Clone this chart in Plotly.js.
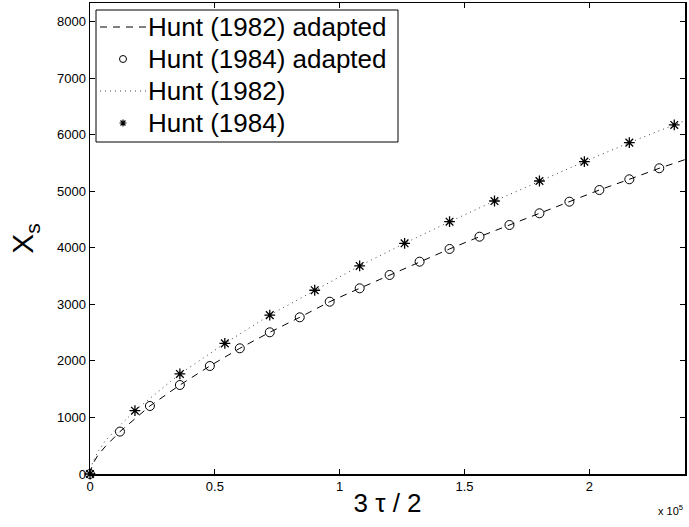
<!DOCTYPE html>
<html>
<head>
<meta charset="utf-8">
<script src="https://cdn.plot.ly/plotly-3.0.1.min.js"></script>
<style>
  html, body { margin: 0; padding: 0; background: #fff; }
  #chart { width: 689px; height: 527px; }
</style>
</head>
<body>
<div id="chart"></div>
<script>
// Curve samples (x in units of 3*tau/2, y is X_s)
const hunt1982AdaptedX = [0, 1000, 3000, 6000, 12000, 24000, 36000, 48000, 60000, 72000, 84000, 96000, 108000, 120000, 132000, 144000, 156000, 168000, 180000, 192000, 204000, 216000, 228000, 238300];
const hunt1982AdaptedY = [0, 170, 320, 480, 750, 1203, 1574, 1910, 2223, 2506, 2771, 3047, 3284, 3520, 3755, 3980, 4197, 4404, 4611, 4816, 5023, 5212, 5407, 5560];

const hunt1984AdaptedX = [0, 12000, 24000, 36000, 48000, 60000, 72000, 84000, 96000, 108000, 120000, 132000, 144000, 156000, 168000, 180000, 192000, 204000, 216000, 228000];
const hunt1984AdaptedY = [0, 750, 1203, 1574, 1910, 2223, 2506, 2771, 3047, 3284, 3520, 3755, 3980, 4197, 4404, 4611, 4816, 5023, 5212, 5407];

const hunt1982X = [0, 1000, 3000, 6000, 12000, 18000, 36000, 54000, 72000, 90000, 108000, 126000, 144000, 162000, 180000, 198000, 216000, 234000, 238300];
const hunt1982Y = [0, 200, 380, 580, 860, 1120, 1770, 2310, 2810, 3250, 3680, 4080, 4462, 4828, 5182, 5524, 5860, 6173, 6250];

const hunt1984X = [0, 18000, 36000, 54000, 72000, 90000, 108000, 126000, 144000, 162000, 180000, 198000, 216000, 234000];
const hunt1984Y = [0, 1120, 1770, 2310, 2810, 3250, 3680, 4080, 4462, 4828, 5182, 5524, 5860, 6173];

const seriesNames = ['Hunt (1982) adapted', 'Hunt (1984) adapted', 'Hunt (1982)', 'Hunt (1984)'];

const xTickVals = [0, 50000, 100000, 150000, 200000];
const xTickText = ['0', '0.5', '1', '1.5', '2'];
const yTickVals = [0, 1000, 2000, 3000, 4000, 5000, 6000, 7000, 8000];

const font = 'Liberation Sans, Arial, Helvetica, sans-serif';

// plot area geometry in pixels
const W = 689, H = 527;
const M = { l: 90, r: 4, t: 3, b: 53 };
const plotW = W - M.l - M.r, plotH = H - M.t - M.b;
const px = X => (X - M.l) / plotW;          // pixel -> paper x
const py = Y => (H - M.b - Y) / plotH;      // pixel -> paper y

const dashStyle = '7px,6px';
const dotStyle = '1px,4px';
const dotColor = '#444';

const traces = [
  {
    x: hunt1982AdaptedX, y: hunt1982AdaptedY, name: seriesNames[0],
    mode: 'lines', line: { color: '#000', width: 1, dash: dashStyle }
  },
  {
    x: hunt1984AdaptedX, y: hunt1984AdaptedY, name: seriesNames[1],
    mode: 'markers', cliponaxis: false,
    marker: { symbol: 'circle-open', size: 9, color: '#000', line: { color: '#000', width: 1 } }
  },
  {
    x: hunt1982X, y: hunt1982Y, name: seriesNames[2],
    mode: 'lines', line: { color: dotColor, width: 1, dash: dotStyle }
  },
  {
    x: hunt1984X, y: hunt1984Y, name: seriesNames[3],
    mode: 'markers', cliponaxis: false,
    marker: { symbol: 'asterisk-open', size: 9, color: '#000', line: { color: '#000', width: 1.3 } }
  }
];

// Legend box, drawn with shapes and annotations
const legendBox = { x0: 96, x1: 398, y0: 10, y1: 142 };
const rowY = [27, 59, 91, 123];
const sampleX0 = 100, sampleX1 = 146, symbolX = 123, textX = 146;

function starPath(cx, cy, r) {
  const segs = [];
  for (let k = 0; k < 4; k++) {
    const a = k * Math.PI / 4;
    const dx = r * Math.cos(a), dy = r * Math.sin(a);
    segs.push(`M${px(cx - dx)},${py(cy - dy)}L${px(cx + dx)},${py(cy + dy)}`);
  }
  return segs.join(' ');
}

const shapes = [
  {
    type: 'rect', xref: 'paper', yref: 'paper',
    x0: px(legendBox.x0), x1: px(legendBox.x1), y0: py(legendBox.y1), y1: py(legendBox.y0),
    line: { color: '#000', width: 1 }, fillcolor: '#fff', layer: 'above'
  },
  {
    type: 'line', xref: 'paper', yref: 'paper',
    x0: px(sampleX0), x1: px(sampleX1), y0: py(rowY[0]), y1: py(rowY[0]),
    line: { color: '#000', width: 1, dash: dashStyle }, layer: 'above'
  },
  {
    type: 'circle', xref: 'paper', yref: 'paper',
    x0: px(symbolX - 3.5), x1: px(symbolX + 3.5), y0: py(rowY[1] + 3.5), y1: py(rowY[1] - 3.5),
    line: { color: '#000', width: 1 }, layer: 'above'
  },
  {
    type: 'line', xref: 'paper', yref: 'paper',
    x0: px(sampleX0), x1: px(sampleX1), y0: py(rowY[2]), y1: py(rowY[2]),
    line: { color: dotColor, width: 1, dash: dotStyle }, layer: 'above'
  },
  {
    type: 'path', xref: 'paper', yref: 'paper',
    path: starPath(symbolX, rowY[3], 3.5),
    line: { color: '#000', width: 1.2 }, layer: 'above'
  }
];

const legendTexts = seriesNames.map((name, i) => ({
  xref: 'paper', yref: 'paper', x: px(textX), y: py(rowY[i]),
  xanchor: 'left', yanchor: 'middle', showarrow: false,
  text: name, font: { family: font, size: 26, color: '#000' }
}));

const axisCommon = {
  showgrid: false, zeroline: false, showline: true, mirror: 'ticks',
  linecolor: '#000', linewidth: 1.5,
  ticks: 'inside', ticklen: 5, tickwidth: 1, tickcolor: '#000',
  tickfont: { family: font, size: 13, color: '#000' }
};

const layout = {
  width: W, height: H,
  margin: M,
  paper_bgcolor: '#fff', plot_bgcolor: '#fff',
  showlegend: false,
  font: { family: font, color: '#000' },
  xaxis: Object.assign({}, axisCommon, {
    range: [0, 238300],
    tickmode: 'array', tickvals: xTickVals, ticktext: xTickText,
    title: { text: '3 τ / 2', font: { family: font, size: 26, color: '#000' }, standoff: 0 }
  }),
  yaxis: Object.assign({}, axisCommon, {
    range: [0, 8330],
    tickmode: 'array', tickvals: yTickVals,
    title: { text: 'X<sub>s</sub>', font: { family: font, size: 30, color: '#000' }, standoff: 14 }
  }),
  shapes: shapes,
  annotations: legendTexts.concat([
    {
      xref: 'paper', yref: 'paper', x: 1, y: py(510), xanchor: 'right', yanchor: 'middle',
      text: 'x 10<sup>5</sup>', showarrow: false,
      font: { family: font, size: 11, color: '#000' }
    }
  ])
};

Plotly.newPlot('chart', traces, layout, { displayModeBar: false, staticPlot: true });
</script>
</body>
</html>
